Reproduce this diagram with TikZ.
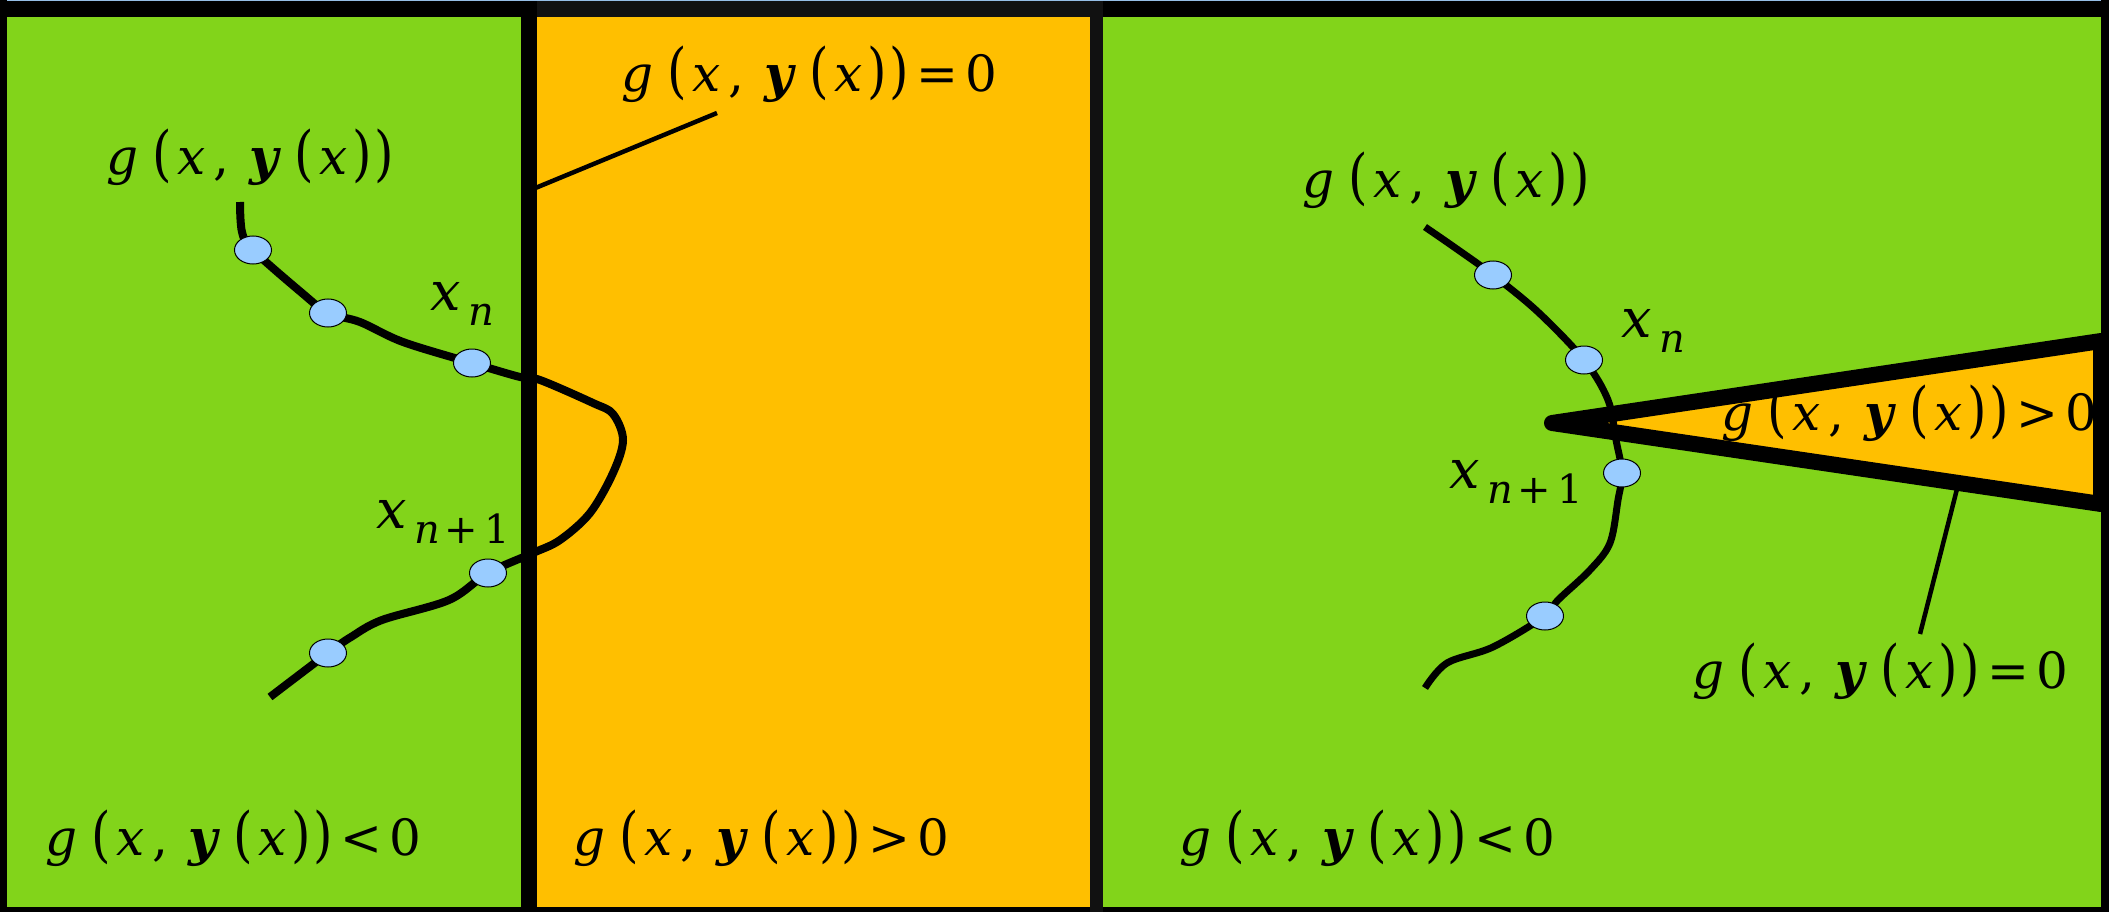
\documentclass[tikz,border=0pt]{standalone}
\usepackage{fontspec}
\usepackage{graphicx}
\usetikzlibrary{shapes.geometric}
\setmainfont{DejaVu Serif}
\definecolor{grn}{RGB}{130,212,26}
\definecolor{org}{RGB}{255,191,0}
\definecolor{dotblue}{RGB}{153,204,255}
\definecolor{dk}{RGB}{17,17,17}
\definecolor{topline}{RGB}{150,190,230}
\newcommand\bpar[1]{\scalebox{1}[1.2]{(}#1\scalebox{1}[1.2]{)}}
\newcommand\gxy{\textit{g}\hspace{14pt}\bpar{\hspace{6pt}\textit{x}\hspace{8pt},\hspace{20pt}\textbf{\textit{y}}\hspace{13pt}\bpar{\hspace{5pt}\textit{x}\hspace{5pt}}\hspace{3pt}}}
\newcommand\rel[1]{\hspace{7pt}#1\hspace{7pt}}
\newcommand\xsub[1]{{\fontsize{54}{60}\selectfont\itshape x}\hspace{8pt}\raisebox{-15pt}{\fontsize{40}{44}\selectfont #1}}
\begin{document}
\begin{tikzpicture}[x=1pt,y=-1pt,
  lbl/.style={inner sep=0pt, anchor=base west, font=\fontsize{50}{56}\selectfont},
  xlbl/.style={inner sep=0pt, anchor=base west},
  dotnode/.style={ellipse, draw=black, line width=1pt, fill=dotblue, minimum width=37pt, minimum height=28pt, inner sep=0pt},
  traj/.style={line width=8pt, line cap=butt, line join=round},
  pointer/.style={line width=4.5pt}
]
\useasboundingbox (0,0) rectangle (2109,912);
% panels
\fill[grn] (0,0) rectangle (2109,912);
\fill[org] (529,17) rectangle (1096,908);
% frame
\fill[topline] (0,0) rectangle (2109,1.5);
\fill[black] (0,1.5) rectangle (2109,17);
\fill[dk] (537,1.5) rectangle (1096,17);
\fill[black] (0,0) rectangle (7,912);
\fill[black] (2101,0) rectangle (2109,912);
\fill[black] (0,907) rectangle (2109,912);
\fill[dk] (1090,1.5) rectangle (1103,912);
\fill[black] (521,1.5) rectangle (537,912);

% wedge
\draw[line width=16pt, line join=round, fill=org] (1552,423) -- (2101,341) -- (2101,504) -- cycle;

% positions of points
\coordinate (p1) at (253,250);
\coordinate (p2) at (328,313);
\coordinate (p3) at (472,363);
\coordinate (p4) at (488,573);
\coordinate (p5) at (328,653);
\coordinate (q1) at (1493,275);
\coordinate (q2) at (1584,360);
\coordinate (q3) at (1622,473);
\coordinate (q4) at (1545,616);

% trajectories
\draw[traj] plot[smooth, tension=0.55] coordinates {(240,202) (242,232) (p1) (302,293) (p2) (360,322) (403,342) (p3) (520,377) (540,380) (593,403) (613,414) (623,440) (613,473) (590,513) (560,540) (533,553) (p4) (449,600) (382,620) (351,637) (p5) (270,697)};
\draw[traj, line width=7pt] plot[smooth, tension=0.55] coordinates {(1425,227) (1454,247) (q1) (1538,312) (q2) (1608,400) (1616,440) (q3) (1618,500) (1610,543) (1590,570) (1558,600) (q4) (1493,647) (1447,663) (1425,688)};

% points
\foreach \p in {p1,p2,p3,p4,p5,q1,q2,q3,q4} \node[dotnode] (E\p) at (\p) {};

% labels
\node[lbl] (gL) at (106,175) {\gxy};
\node[lbl] (gZ) at (621,92) {\gxy\rel{=}0};
\node[lbl] (gLneg) at (45,855) {\gxy\rel{<}0};
\node[lbl] (gLpos) at (573,855) {\gxy\rel{>}0};
\node[lbl] (gR) at (1302,197) {\gxy};
\node[lbl] (gW) at (1721,430) {\gxy\rel{>}0};
\node[lbl] (gRZ) at (1692,688) {\gxy\rel{=}0};
\node[lbl] (gRneg) at (1179,855) {\gxy\rel{<}0};

\node[xlbl] (xnL) at (430,310) {\xsub{\itshape n}};
\node[xlbl] (xn1L) at (376,528) {\xsub{\textit{n}\hspace{4pt}+\hspace{7pt}1}};
\node[xlbl] (xnR) at (1621,337) {\xsub{\itshape n}};
\node[xlbl] (xn1R) at (1449,488) {\xsub{\textit{n}\hspace{4pt}+\hspace{7pt}1}};

% pointer lines
\coordinate (aL) at (533,189);
\coordinate (bL) at (717,113);
\coordinate (aR) at (1958,485);
\coordinate (bR) at (1920,634);
\draw[pointer] (aL) -- (bL);
\draw[pointer] (aR) -- (bR);
\end{tikzpicture}
\end{document}
